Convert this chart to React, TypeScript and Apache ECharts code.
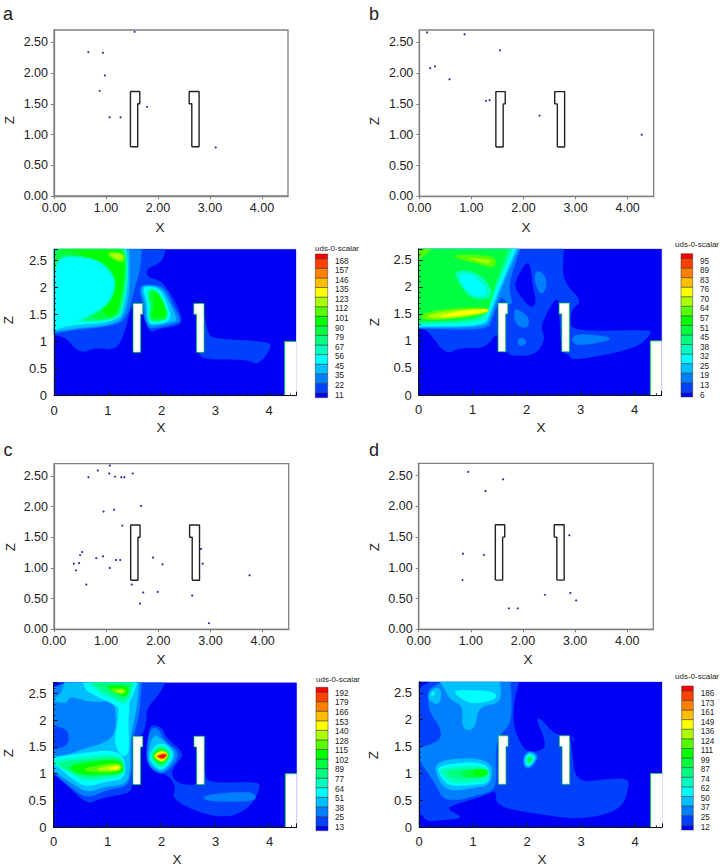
import React, { useEffect, useRef } from "react";
import * as echarts from "echarts";

const FONT = "'Liberation Sans', Arial, sans-serif";
const BAND_COLORS = ["#0000f5","#0040ff","#0080ff","#00bfff","#00ffff","#00ffbf","#00ff80","#00ff40","#00ff00","#55ff00","#aaff00","#ffff00","#ffbf00","#ff8000","#ff4000","#ff0000"];

const LEVELS_A = [11,22,35,45,56,67,79,90,101,112,123,135,146,157,168];
const LEVELS_B = [6,13,19,25,32,38,45,51,57,64,70,76,83,89,95];
const LEVELS_C = [13,25,38,51,64,77,89,102,115,128,140,153,166,179,192];
const LEVELS_D = [12,25,37,50,62,74,87,99,111,124,136,149,161,173,186];

const POINTS_A = [[0.66,2.34],[0.94,2.33],[1.55,2.67],[0.98,1.96],[0.88,1.71],[1.79,1.45],[1.07,1.28],[1.28,1.28],[3.11,0.79]];
const POINTS_B = [[0.15,2.66],[0.87,2.63],[1.55,2.37],[0.21,2.08],[0.30,2.11],[0.58,1.90],[1.28,1.55],[1.35,1.56],[2.31,1.31],[4.27,1.0]];
const POINTS_C = [[1.07,2.67],[0.84,2.59],[1.06,2.54],[0.66,2.48],[1.17,2.49],[1.29,2.48],[1.35,2.48],[1.51,2.54],[1.67,2.01],[1.15,1.95],[0.95,1.92],[1.31,1.69],[0.54,1.26],[0.5,1.21],[0.38,1.07],[0.48,1.08],[0.42,0.96],[0.81,1.16],[0.94,1.19],[1.19,1.13],[1.27,1.13],[1.07,1.0],[0.62,0.73],[1.49,0.73],[1.71,0.6],[1.65,0.42],[1.99,0.61],[1.9,1.17],[2.08,1.06],[2.82,1.31],[2.85,1.07],[2.65,0.55],[2.97,0.1],[3.75,0.88]];
const POINTS_D = [[0.95,2.56],[1.62,2.44],[1.28,2.25],[2.89,1.53],[0.85,1.23],[1.25,1.21],[0.84,0.8],[2.42,0.56],[2.91,0.59],[3.02,0.47],[1.73,0.34],[1.9,0.34]];

const OBSTACLE_1 = [[1.47,0.8],[1.47,1.7],[1.65,1.7],[1.65,1.5],[1.61,1.5],[1.61,0.8],[1.47,0.8]];
const OBSTACLE_2 = [[2.65,0.8],[2.65,1.5],[2.6,1.5],[2.6,1.7],[2.79,1.7],[2.79,0.8],[2.65,0.8]];
const STEP_FILL = [[4.29,0],[4.29,1],[4.5,1],[4.5,0]];
const STEP_EDGE = [[4.29,0],[4.29,1],[4.5,1]];
const DOMAIN = [[0,0],[4.5,0],[4.5,2.7],[0,2.7]];

type Poly = [number, number[][]];

const CONTOUR_A: Poly[] = [
  [0,DOMAIN],
  [1,[[0,1.12],[0.22,1.08],[0.47,0.78],[0.78,0.89],[1.15,0.84],[1.31,1.15],[1.45,1.70],[1.65,1.70],[1.66,1.5],[1.78,1.15],[1.96,1.24],[2.27,1.28],[2.40,1.37],[2.27,1.70],[2.09,2.0],[1.96,2.13],[1.74,2.18],[1.71,2.34],[2.02,2.47],[2.07,2.7],[0,2.7]]],
  [1,[[2.78,1.55],[2.86,1.15],[2.96,1.05],[3.95,1.0],[4.06,0.91],[3.80,0.56],[3.61,0.67],[2.77,0.67],[2.68,0.8],[2.68,1.0]]],
  [2,[[0,1.15],[0.28,1.2],[1.21,1.3],[1.37,1.5],[1.44,1.75],[1.5,2.0],[1.6,2.3],[1.63,2.7],[0,2.7]]],
  [3,[[0,1.18],[0.3,1.23],[1.18,1.32],[1.33,1.55],[1.41,1.95],[1.40,2.7],[0,2.7]]],
  [4,[[0,1.2],[0.25,1.3],[1.15,1.36],[1.28,1.6],[1.36,2.0],[1.36,2.45],[1.31,2.7],[0,2.7]]],
  [5,[[0.3,1.33],[1.22,1.39],[1.29,1.64],[1.37,2.08],[1.37,2.5],[1.34,2.7],[0,2.7],[0,2.05]]],
  [6,[[0.3,1.35],[1.2,1.42],[1.27,1.7],[1.34,2.1],[1.35,2.5],[1.3,2.7],[0,2.7],[0,2.1]]],
  [7,[[0.6,1.4],[1.15,1.42],[1.24,1.7],[1.31,2.1],[1.33,2.5],[1.27,2.7],[0.05,2.7],[0,2.3]]],
  [8,[[0.9,1.45],[1.15,1.5],[1.22,1.7],[1.28,2.1],[1.32,2.45],[1.25,2.7],[0.1,2.7],[0.7,2.6]]],
  [5,[[0,1.21],[0.3,1.31],[0.86,1.55],[1.1,1.8],[1.16,2.13],[1.02,2.35],[0.83,2.5],[0.47,2.58],[0.05,2.57],[0,2.15]]],
  [4,[[0,1.21],[0.32,1.33],[0.84,1.58],[1.06,1.82],[1.12,2.13],[1.0,2.31],[0.81,2.47],[0.47,2.55],[0.07,2.53],[0,2.13]]],
  [9,[[1.0,2.58],[1.2,2.46],[1.33,2.48],[1.3,2.64],[1.0,2.66]]],
  [10,[[1.05,2.57],[1.2,2.5],[1.3,2.52],[1.27,2.61],[1.05,2.63]]],
  [2,[[1.66,1.5],[1.72,1.33],[1.78,1.22],[2.27,1.33],[2.37,1.38],[2.2,1.7],[2.05,2.02],[1.65,2.06],[1.58,1.95],[1.66,1.7]]],
  [3,[[1.72,1.38],[1.8,1.27],[2.2,1.36],[2.3,1.39],[2.15,1.72],[2.0,2.0],[1.68,2.04],[1.62,1.95],[1.7,1.7]]],
  [4,[[1.74,1.4],[1.83,1.3],[2.2,1.38],[2.1,1.7],[1.97,1.98],[1.7,2.02],[1.66,1.95],[1.74,1.7]]],
  [5,[[1.76,1.4],[1.85,1.33],[2.15,1.41],[2.07,1.68],[1.95,1.92],[1.75,2.0],[1.72,1.85],[1.76,1.65]]],
  [7,[[1.77,1.41],[1.9,1.37],[2.13,1.43],[2.06,1.68],[1.93,1.92],[1.78,1.96],[1.76,1.8],[1.82,1.68]]],
  [8,[[1.8,1.43],[2.1,1.45],[2.03,1.68],[1.92,1.9],[1.84,1.9],[1.87,1.68]]],
];

const CONTOUR_B: Poly[] = [
  [0,DOMAIN],
  [1,[[0,1.23],[0.17,1.2],[0.5,0.74],[0.75,0.88],[1.24,0.86],[1.47,1.2],[1.47,0.8],[1.66,0.8],[1.7,0.72],[2.17,0.74],[2.35,1.05],[2.25,1.25],[2.4,1.58],[2.55,1.8],[2.6,1.7],[2.6,1.5],[2.65,0.8],[2.78,0.75],[2.85,0.63],[4.03,0.86],[4.31,1.14],[4.28,1.21],[2.85,1.17],[2.8,1.4],[2.85,1.6],[3.02,1.74],[2.72,2.05],[2.66,2.3],[2.69,2.7],[0,2.7]]],
  [0,[[1.8,1.94],[1.79,2.12],[2.02,2.5],[2.08,2.3],[2.1,2.06],[2.18,1.7],[2.07,1.6]]],
  [2,[[2.17,2.3],[2.3,2.27],[2.39,2.05],[2.27,1.82],[2.14,2.1]]],
  [2,[[1.77,1.6],[1.9,1.55],[2.05,1.42],[2.02,1.23],[1.85,1.27],[1.77,1.38]]],
  [2,[[1.84,1.05],[1.95,1.05],[2.0,0.95],[1.9,0.9],[1.84,0.93]]],
  [2,[[2.85,1.15],[3.68,1.06],[3.22,0.94],[2.85,0.92]]],
  [2,[[0,1.23],[1.27,1.2],[1.36,1.4],[1.52,1.85],[1.62,1.72],[1.75,1.65],[1.65,2.05],[1.88,2.7],[0,2.7]]],
  [3,[[0,1.25],[1.25,1.25],[1.33,1.45],[1.55,2.03],[1.84,2.7],[0,2.7]]],
  [4,[[0,1.27],[1.22,1.28],[1.31,1.5],[1.5,2.0],[1.8,2.7],[0,2.7]]],
  [5,[[0,1.3],[1.2,1.32],[1.28,1.55],[1.45,2.0],[1.75,2.7],[0,2.7]]],
  [6,[[0,1.33],[1.15,1.37],[1.25,1.6],[1.42,2.0],[1.7,2.7],[0,2.7]]],
  [7,[[0,1.36],[1.25,1.4],[1.4,2.0],[1.65,2.7],[0,2.7]]],
  [5,[[0.65,2.3],[1.0,2.3],[1.28,2.1],[1.38,1.8],[1.0,1.75],[0.75,2.05]]],
  [4,[[0.75,2.25],[1.0,2.22],[1.2,2.05],[1.28,1.85],[1.0,1.82],[0.8,2.05]]],
  [9,[[0.05,1.38],[0.6,1.4],[1.28,1.5],[1.3,1.62],[0.8,1.62],[0.05,1.53]]],
  [10,[[0.15,1.42],[0.6,1.42],[1.28,1.52],[1.3,1.6],[0.8,1.58],[0.2,1.5]]],
  [11,[[0.3,1.44],[0.7,1.46],[1.27,1.54],[1.28,1.59],[0.8,1.56]]],
  [9,[[0.6,2.58],[1.0,2.6],[1.45,2.55],[1.4,2.33],[1.1,2.43],[0.8,2.5]]],
  [10,[[0.9,2.55],[1.1,2.52],[1.35,2.5],[1.3,2.42],[1.1,2.47]]],
  [9,[[0,2.7],[0.25,2.7],[0,2.5]]],
];

const CONTOUR_C: Poly[] = [
  [0,DOMAIN],
  [1,[[0,1.0],[0.24,0.79],[0.64,0.42],[0.85,0.54],[1.38,0.63],[1.47,0.75],[1.47,1.7],[1.66,1.72],[1.72,2.0],[1.72,2.22],[1.97,2.5],[2.06,2.7],[0,2.7]]],
  [1,[[1.75,1.69],[1.78,1.91],[2.0,1.88],[2.09,1.66],[2.43,1.38],[2.25,1.16],[2.16,0.98],[2.34,0.79],[2.71,0.79],[2.8,1.07],[2.83,0.82],[3.7,0.85],[3.85,0.79],[3.64,0.36],[3.2,0.17],[2.65,0.29],[2.19,0.54],[2.27,0.73],[2.16,0.95],[1.91,1.04],[1.75,1.29]]],
  [2,[[2.74,0.6],[3.57,0.67],[3.76,0.6],[3.7,0.48],[2.84,0.48]]],
  [2,[[0,1.02],[0.37,0.7],[0.64,0.54],[0.98,0.7],[1.38,0.76],[1.45,1.07],[1.44,1.68],[1.5,1.75],[1.6,2.2],[1.63,2.7],[0,2.7]]],
  [3,[[0,1.05],[0.4,0.78],[0.64,0.65],[0.95,0.76],[1.35,0.8],[1.42,1.07],[1.42,1.65],[1.49,2.0],[1.55,2.3],[1.58,2.7],[0,2.7]]],
  [2,[[0,2.35],[0.25,2.3],[0.3,2.45],[0.6,2.35],[0.85,2.33],[1.1,2.38],[1.17,2.0],[1.1,1.65],[0.7,1.5],[0.55,1.47],[0.25,1.35],[0,1.33]]],
  [1,[[0,1.45],[0.28,1.53],[0.28,1.82],[0,1.9]]],
  [2,[[0,2.7],[0.2,2.7],[0.14,2.5],[0,2.4]]],
  [0,[[0,2.7],[0.2,2.7],[0,2.62]]],
  [4,[[0,1.3],[0.5,1.38],[1.1,1.45],[1.32,1.3],[1.33,0.9],[0.95,0.85],[0.6,0.75],[0.35,0.9],[0,1.2]]],
  [5,[[0,1.25],[0.4,1.3],[1.1,1.37],[1.3,1.28],[1.32,0.95],[0.95,0.9],[0.6,0.85],[0.35,0.98],[0,1.18]]],
  [6,[[0.05,1.2],[0.4,1.25],[1.15,1.32],[1.3,1.25],[1.31,1.0],[0.95,0.95],[0.55,0.92],[0.3,1.05]]],
  [8,[[0.25,1.12],[0.5,1.2],[1.2,1.28],[1.3,1.1],[1.25,1.0],[0.8,0.98],[0.5,0.98]]],
  [9,[[0.5,1.1],[1.2,1.22],[1.29,1.12],[1.2,1.03],[0.7,1.02]]],
  [10,[[0.7,1.07],[1.15,1.18],[1.27,1.12],[1.15,1.05]]],
  [11,[[1.0,1.1],[1.17,1.15],[1.25,1.11],[1.15,1.07]]],
  [4,[[1.2,2.35],[1.42,2.35],[1.38,2.0],[1.4,1.6],[1.38,1.35],[1.25,1.32],[1.12,1.6],[1.2,2.0]]],
  [4,[[0.55,2.7],[0.6,2.55],[0.85,2.42],[1.17,2.27],[1.3,2.15],[1.42,2.35],[1.55,2.7]]],
  [5,[[0.65,2.7],[0.85,2.5],[1.1,2.4],[1.3,2.28],[1.42,2.4],[1.5,2.7]]],
  [6,[[0.72,2.7],[0.9,2.55],[1.1,2.45],[1.3,2.35],[1.4,2.45],[1.45,2.7]]],
  [8,[[0.9,2.65],[1.3,2.42],[1.38,2.5],[1.4,2.65]]],
  [9,[[1.0,2.58],[1.25,2.47],[1.35,2.52],[1.3,2.6]]],
  [10,[[1.1,2.55],[1.25,2.5],[1.33,2.53],[1.28,2.58]]],
  [2,[[1.78,1.85],[1.95,1.85],[2.05,1.6],[2.37,1.38],[2.07,0.98],[1.82,1.06],[1.7,1.3]]],
  [3,[[1.85,1.75],[2.0,1.65],[2.3,1.38],[2.05,1.02],[1.85,1.1],[1.72,1.3]]],
  [4,[[1.97,1.62],[2.26,1.38],[2.03,1.05],[1.85,1.15],[1.75,1.35]]],
  [5,[[1.97,1.58],[2.22,1.38],[2.03,1.09],[1.87,1.17],[1.77,1.35]]],
  [6,[[1.98,1.53],[2.2,1.37],[2.03,1.12],[1.88,1.2],[1.8,1.35]]],
  [8,[[1.98,1.48],[2.16,1.37],[2.03,1.17],[1.9,1.23],[1.82,1.35]]],
  [10,[[2.0,1.45],[2.14,1.37],[2.03,1.2],[1.9,1.27],[1.84,1.35]]],
  [11,[[2.0,1.42],[2.12,1.37],[2.03,1.23],[1.92,1.28],[1.87,1.35]]],
  [12,[[2.02,1.4],[2.12,1.36],[2.03,1.25],[1.93,1.3],[1.89,1.33]]],
  [13,[[2.04,1.38],[2.11,1.35],[2.03,1.27],[1.94,1.3],[1.9,1.33]]],
  [14,[[2.05,1.37],[2.1,1.35],[2.03,1.28],[1.95,1.3],[1.92,1.33]]],
  [15,[[2.05,1.35],[2.09,1.35],[2.03,1.3],[1.96,1.31],[1.95,1.33]]],
];

const CONTOUR_D: Poly[] = [
  [0,DOMAIN],
  [1,[[0,2.7],[1.85,2.7],[1.75,2.3],[1.75,1.88],[1.87,1.57],[2.02,1.38],[2.33,1.44],[2.33,1.65],[2.17,2.0],[2.25,2.03],[2.44,1.8],[2.6,1.7],[2.78,1.7],[2.83,1.5],[2.89,0.82],[3.5,0.9],[3.88,0.9],[3.88,0.75],[3.75,0.32],[2.98,0.14],[2.12,0.26],[1.43,0.39],[1.43,0.7],[1.25,0.6],[0.75,0.45],[0.48,0.35],[0.85,0.17],[0.45,0.14],[0.14,0.1],[0.02,0.3],[0,0.05]]],
  [0,[[0,2.7],[0.18,2.7],[0,2.6]]],
  [1,[[2.82,1.72],[2.88,1.62],[2.85,1.58]]],
  [2,[[0.42,2.7],[1.69,2.7],[1.72,2.3],[1.69,1.9],[1.47,1.7],[1.41,1.38],[1.44,0.75],[1.25,0.63],[0.48,0.45],[0.3,0.82],[0,1.25],[0,1.47],[0.39,1.6],[0.42,1.82],[0.2,2.13],[0.17,2.38],[0.17,2.57]]],
  [3,[[0.14,2.41],[0.27,2.6],[0.42,2.57],[0.39,2.31],[0.3,2.28]]],
  [4,[[0.2,2.45],[0.27,2.55],[0.3,2.45]]],
  [3,[[0.39,2.7],[1.5,2.7],[1.53,2.31],[1.1,2.25],[1.04,1.85],[0.88,1.79],[0.79,1.91],[0.82,2.25],[0.57,2.38],[0.48,2.56]]],
  [4,[[0.64,2.56],[1.41,2.53],[1.44,2.38],[1.0,2.28],[0.7,2.44]]],
  [3,[[0.27,1.26],[1.35,1.29],[1.35,0.79],[1.0,0.73],[0.57,0.67],[0.36,0.85]]],
  [4,[[0.33,1.16],[1.28,1.23],[1.32,0.82],[1.0,0.79],[0.57,0.76],[0.39,0.95]]],
  [5,[[0.36,1.1],[1.25,1.17],[1.33,0.88],[1.0,0.83],[0.57,0.81],[0.4,1.0]]],
  [6,[[0.45,1.05],[1.0,1.1],[1.32,1.0],[1.1,0.9],[0.6,0.9]]],
  [7,[[0.8,1.05],[1.2,1.1],[1.32,1.0],[1.15,0.92],[0.8,0.93]]],
  [8,[[1.0,1.05],[1.2,1.09],[1.3,1.0],[1.15,0.94],[1.0,0.96]]],
  [2,[[1.93,1.32],[2.05,1.44],[2.24,1.32],[2.05,1.07],[1.93,1.13]]],
  [3,[[1.95,1.32],[2.05,1.41],[2.2,1.31],[2.05,1.1],[1.95,1.15]]],
  [4,[[1.97,1.3],[2.05,1.38],[2.17,1.3],[2.05,1.13],[1.97,1.17]]],
  [5,[[1.99,1.28],[2.06,1.35],[2.14,1.28],[2.05,1.16],[1.99,1.19]]],
  [7,[[2.01,1.27],[2.06,1.31],[2.1,1.27],[2.05,1.2],[2.01,1.22]]],
];

const X_TICKS_FMT = (v: number) => String(v);
const AXIS_RANGE_X = 4.5;
const AXIS_RANGE_Z = 2.7;

type Rect = { l: number; t: number; r: number; b: number };
const scatterGrids: Rect[] = [
  { l: 54, t: 30, r: 288, b: 196 },
  { l: 419.3, t: 30, r: 653.7, b: 196.3 },
  { l: 54, t: 463.7, r: 288.7, b: 629.3 },
  { l: 418.7, t: 463.3, r: 653.3, b: 629.3 },
];
const contourGrids: Rect[] = [
  { l: 54, t: 249.3, r: 296, b: 395.7 },
  { l: 418.7, t: 249, r: 661.7, b: 395 },
  { l: 53.5, t: 682.7, r: 296.7, b: 827.3 },
  { l: 419, t: 682, r: 662, b: 827.3 },
];
const legendBoxes = [
  { l: 315.3, r: 327.7, t: 254, b: 397.7, tx: 335, yLo: 395, yHi: 261, titleX: 315, titleY: 248 },
  { l: 681, r: 692.7, t: 253.7, b: 397, tx: 700, yLo: 395, yHi: 261, titleX: 675, titleY: 244.7 },
  { l: 316, r: 328, t: 687.3, b: 830.7, tx: 335, yLo: 827.3, yHi: 693.3, titleX: 316, titleY: 679 },
  { l: 681.7, r: 693.3, t: 686, b: 830, tx: 700.7, yLo: 827, yHi: 693.7, titleX: 675, titleY: 676.7 },
];
const PANEL_LETTERS = [
  { t: "a", x: 8, y: 14 }, { t: "b", x: 374, y: 14 }, { t: "c", x: 8, y: 450 }, { t: "d", x: 374, y: 450 },
];
const AXIS_TITLES = [
  { t: "X", x: 160, y: 227 }, { t: "X", x: 526, y: 227 }, { t: "X", x: 161, y: 659 }, { t: "X", x: 528, y: 659 },
  { t: "X", x: 161, y: 427 }, { t: "X", x: 541, y: 427 }, { t: "X", x: 177, y: 859 }, { t: "X", x: 542, y: 859 },
  { t: "Z", x: 9, y: 120, r: 1 }, { t: "Z", x: 374, y: 121, r: 1 }, { t: "Z", x: 10, y: 547, r: 1 }, { t: "Z", x: 374, y: 547, r: 1 },
  { t: "Z", x: 8, y: 320, r: 1 }, { t: "Z", x: 374, y: 322, r: 1 }, { t: "Z", x: 8, y: 753, r: 1 }, { t: "Z", x: 373, y: 755, r: 1 },
];

const txt = (o: any) => ({
  type: "text", x: o.x, y: o.y, rotation: o.rotation || 0, silent: true, z: 20,
  style: { text: o.text, fill: o.fill || "#222", fontSize: o.size, fontFamily: FONT,
    textAlign: o.align || "center", align: o.align || "center", textVerticalAlign: "middle", verticalAlign: "middle" },
});

// Rounds the contour outlines on screen (corner cutting); points on the domain border stay put.
function roundCorners(verts: number[][], isFixed: (v: number[]) => boolean, passes: number) {
  let cur = verts.map((v) => ({ p: v, fixed: isFixed(v) }));
  for (let k = 0; k < passes; k++) {
    const next: { p: number[]; fixed: boolean }[] = [];
    cur.forEach((a, i) => {
      const prev = cur[(i - 1 + cur.length) % cur.length];
      const nxt = cur[(i + 1) % cur.length];
      if (a.fixed) { next.push(a); return; }
      const mix = (b: number[], t: number) => [a.p[0] + (b[0] - a.p[0]) * t, a.p[1] + (b[1] - a.p[1]) * t];
      next.push({ p: mix(prev.p, 0.25), fixed: false });
      next.push({ p: mix(nxt.p, 0.25), fixed: false });
    });
    cur = next;
  }
  return cur.map((c) => c.p);
}
const onBorder = (v: number[]) => v[0] <= 0 || v[0] >= AXIS_RANGE_X || v[1] <= 0 || v[1] >= AXIS_RANGE_Z;

function buildOption() {
  const grid: any[] = [], xAxis: any[] = [], yAxis: any[] = [], series: any[] = [], graphic: any[] = [];
  const gridOf = (r: Rect, show: boolean) => ({ left: r.l, top: r.t, width: r.r - r.l, height: r.b - r.t, show, borderColor: "#808080", borderWidth: 1.3, backgroundColor: "#fff" });

  scatterGrids.forEach((r, i) => {
    grid.push(gridOf(r, true));
    const line = { show: true, lineStyle: { color: "#808080", width: 1.3 } };
    const tick = { show: true, length: 3, inside: false, lineStyle: { color: "#808080", width: 1 } };
    xAxis.push({ type: "value", gridIndex: i, min: 0, max: AXIS_RANGE_X, interval: 1, splitLine: { show: false }, axisLine: line, axisTick: tick,
      axisLabel: { fontFamily: FONT, fontSize: 12.5, color: "#222", margin: 5, showMaxLabel: false, formatter: (v: number) => v.toFixed(2) } });
    yAxis.push({ type: "value", gridIndex: i, min: 0, max: AXIS_RANGE_Z, interval: 0.5, splitLine: { show: false }, axisLine: line, axisTick: tick,
      axisLabel: { fontFamily: FONT, fontSize: 12.5, color: "#222", margin: 6, showMaxLabel: false, formatter: (v: number) => v.toFixed(2) } });
    const pts = [POINTS_A, POINTS_B, POINTS_C, POINTS_D][i];
    series.push({ type: "scatter", xAxisIndex: i, yAxisIndex: i, data: pts, symbolSize: 2.2, itemStyle: { color: "#00008b" }, silent: true, z: 5 });
    [OBSTACLE_1, OBSTACLE_2].forEach((o) => series.push({ type: "line", xAxisIndex: i, yAxisIndex: i, data: o, symbol: "none", silent: true, z: 4, lineStyle: { color: "#222", width: 1.4 } }));
  });

  contourGrids.forEach((r, k) => {
    const i = k + 4;
    grid.push(gridOf(r, false));
    const line = { show: true, onZero: false, lineStyle: { color: "#111", width: 1 } };
    const tick = { show: true, inside: true, length: 4, lineStyle: { color: "#111", width: 1 } };
    const minor = { show: true, length: 2, splitNumber: 5, lineStyle: { color: "#111", width: 0.8 } };
    xAxis.push({ type: "value", gridIndex: i, min: 0, max: AXIS_RANGE_X, interval: 1, z: 8, splitLine: { show: false }, minorSplitLine: { show: false }, axisLine: line, axisTick: tick, minorTick: minor,
      axisLabel: { fontFamily: FONT, fontSize: 13, color: "#222", margin: 8, showMaxLabel: false, formatter: X_TICKS_FMT } });
    yAxis.push({ type: "value", gridIndex: i, min: 0, max: AXIS_RANGE_Z, interval: 0.5, z: 8, splitLine: { show: false }, minorSplitLine: { show: false }, axisLine: line, axisTick: tick, minorTick: minor,
      axisLabel: { fontFamily: FONT, fontSize: 13, color: "#222", margin: 7, showMaxLabel: false, formatter: X_TICKS_FMT } });
    const polys = [CONTOUR_A, CONTOUR_B, CONTOUR_C, CONTOUR_D][k];
    const wallPolys: Poly[] = [[-1, OBSTACLE_1], [-1, OBSTACLE_2], [-2, STEP_FILL]];
    const all = polys.concat(wallPolys);
    series.push({
      type: "custom", coordinateSystem: "cartesian2d", xAxisIndex: i, yAxisIndex: i, silent: true, z: 3, clip: false,
      data: all.map((p) => [p[1][0][0], p[1][0][1]]),
      renderItem: (params: any, api: any) => {
        const [band, verts] = all[params.dataIndex];
        const outline = band >= 0 ? roundCorners(verts, onBorder, 2) : verts;
        const points = outline.map((v) => api.coord(v));
        const wall = band === -1;
        const fill = band < 0 ? "#ffffff" : BAND_COLORS[band];
        return { type: "polygon", shape: { points }, style: { fill, stroke: wall ? "#00d030" : fill, lineWidth: wall ? 0.7 : 0.3 } };
      },
    });
    series.push({ type: "line", xAxisIndex: i, yAxisIndex: i, data: STEP_EDGE, symbol: "none", silent: true, z: 4, lineStyle: { color: "#00d030", width: 0.8 } });

    const lb = legendBoxes[k];
    const levels = [LEVELS_A, LEVELS_B, LEVELS_C, LEVELS_D][k];
    const step = (lb.b - lb.t) / 15;
    BAND_COLORS.forEach((c, b) => {
      const full = b > 0 && b < 15;
      const bottom = b === 0 ? lb.b : lb.b - step / 2 - (b - 1) * step;
      const h = full ? step : step / 2;
      graphic.push({ type: "rect", silent: true, z: 20, shape: { x: lb.l, y: bottom - h, width: lb.r - lb.l, height: h }, style: { fill: c, stroke: "#333", lineWidth: 0.5 } });
    });
    levels.forEach((v, n) => {
      graphic.push(txt({ text: String(v), x: lb.tx, y: lb.yLo + (lb.yHi - lb.yLo) * n / 14, size: 8.2, align: "left" }));
    });
    graphic.push(txt({ text: "uds-0-scalar", x: lb.titleX, y: lb.titleY, size: 8, align: "left" }));
  });

  PANEL_LETTERS.forEach((p) => graphic.push(txt({ text: p.t, x: p.x, y: p.y, size: 18 })));
  AXIS_TITLES.forEach((p: any) => graphic.push(txt({ text: p.t, x: p.x, y: p.y, size: 13.5, rotation: p.r ? Math.PI / 2 : 0 })));

  return { animation: false, backgroundColor: "#fff", grid, xAxis, yAxis, series, graphic, tooltip: { show: false } };
}

export default function App() {
  const ref = useRef<HTMLDivElement>(null);
  useEffect(() => {
    document.body.style.margin = "0";
    const chart = echarts.init(ref.current!, null, { renderer: "svg" });
    chart.setOption(buildOption() as any);
    return () => chart.dispose();
  }, []);
  return <div ref={ref} style={{ width: 720, height: 868 }} />;
}
